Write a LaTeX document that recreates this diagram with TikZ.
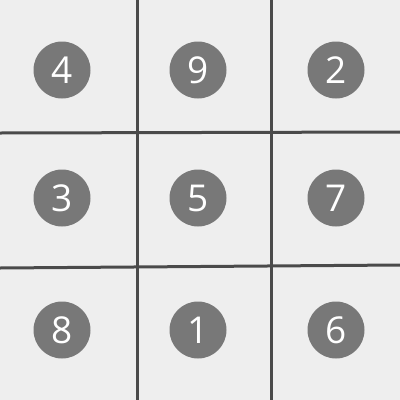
\documentclass[tikz,border=0pt]{standalone}
\usepackage{fontspec}
\setmainfont{Open Sans}
\definecolor{paper}{HTML}{EEEEEE}
\definecolor{disc}{HTML}{787878}
\definecolor{rule}{HTML}{4A4A4A}
\tikzset{
  cell/.style={circle, fill=disc, inner sep=0pt, minimum size=57pt,
    text=white, font=\fontsize{37}{37}\selectfont},
  gridline/.style={rule, line width=3pt}
}
\begin{document}
\begin{tikzpicture}[x=1pt,y=-1pt]
    \fill[paper] (0,0) rectangle (400,400);
    \useasboundingbox (0,0) rectangle (400,400);
    \def\ax{62}; \def\bx{198}; \def\cx{336};
    \def\ay{70}; \def\by{198}; \def\cy{330};

    % grid
    \coordinate (T1) at (137,0); \coordinate (B1) at (137,400);
    \coordinate (T2) at (271,0); \coordinate (B2) at (271,400);
    \coordinate (L1) at (0,133); \coordinate (R1) at (400,132);
    \coordinate (L2) at (0,268); \coordinate (R2) at (400,265);
    \draw[gridline] (T1) -- (B1); \draw[gridline] (T2) -- (B2);
    \draw[gridline] (L1) -- (R1); \draw[gridline] (L2) -- (R2);

    \node[cell] (A) at (\ax,\ay) {4}; \node[cell] (B) at (\bx,\ay) {9};
    \node[cell] (C) at (\cx,\ay) {2};
    \node[cell] (D) at (\ax,\by) {3}; \node[cell] (E) at (\bx,\by) {5};
    \node[cell] (F) at (\cx,\by) {7};
    \node[cell] (G) at (\ax,\cy) {8}; \node[cell] (H) at (\bx,\cy) {1};
    \node[cell] (I) at (\cx,\cy) {6};
  \end{tikzpicture}
\end{document}
